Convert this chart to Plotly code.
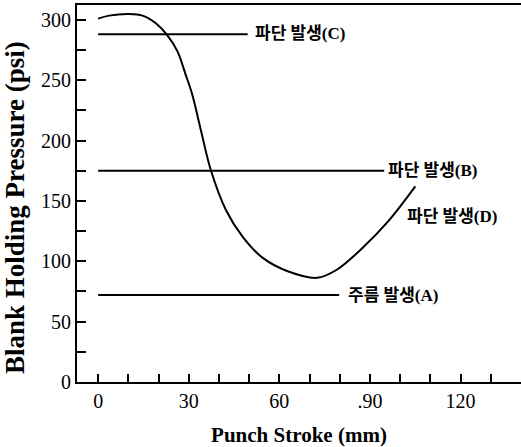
import plotly.graph_objects as go

# Curve: blank holding pressure vs punch stroke
stroke = [0, 3.6, 10.3, 14.7, 19.1, 23, 26.3, 29, 31.2, 34, 37.3, 42.3, 47.8, 54.4, 63, 72.5, 79, 87.5, 96, 105]
pressure = [301, 303.5, 304.9, 303.5, 297.2, 287, 273.7, 254.4, 237.8, 208.8, 175.6, 142.5, 120.4, 103, 91.5, 86.3, 93, 111, 133, 162]

# Limit lines: (label, level, end stroke)
limit_labels = ["파단 발생(C)", "파단 발생(B)", "주름 발생(A)"]
limit_levels = [288, 175, 72]
limit_ends = [49.5, 94.7, 79.8]
limit_label_x = [51.3, 95.2, 82.2]
limit_label_y = [288.5, 175.6, 72]

curve_label = "파단 발생(D)"
curve_label_pos = (101.7, 137)

x_tick_vals = [0, 30, 60, 90, 120]
x_tick_text = ["0", "30", "60", ".90", "120"]
y_tick_vals = [0, 50, 100, 150, 200, 250, 300]
y_tick_text = ["0", "50", "100", "150", "200", "250", "300"]

x_title = "Punch Stroke (mm)"
y_title = "Blank Holding Pressure (psi)"

serif = "Liberation Serif, Noto Sans CJK KR, serif"

fig = go.Figure()
fig.add_trace(go.Scatter(x=stroke, y=pressure, mode="lines",
                         line=dict(color="black", width=2, shape="spline", smoothing=1.0),
                         showlegend=False, hoverinfo="skip"))
for lvl, xe in zip(limit_levels, limit_ends):
    fig.add_trace(go.Scatter(x=[0, xe], y=[lvl, lvl], mode="lines",
                             line=dict(color="black", width=2),
                             showlegend=False, hoverinfo="skip"))

for lab, ly, lx in zip(limit_labels, limit_label_y, limit_label_x):
    fig.add_annotation(x=lx, y=ly, text="<b>" + lab + "</b>", showarrow=False,
                       xanchor="left", yanchor="middle",
                       font=dict(family=serif, size=17, color="black"))
fig.add_annotation(x=curve_label_pos[0], y=curve_label_pos[1], text="<b>" + curve_label + "</b>",
                   showarrow=False, xanchor="left", yanchor="middle",
                   font=dict(family=serif, size=17, color="black"))

# y-axis title as rotated annotation (paper coords)
fig.add_annotation(x=-0.1396, y=0.4615, xref="paper", yref="paper",
                   text="<b>" + y_title + "</b>", textangle=-90, showarrow=False,
                   xanchor="center", yanchor="middle",
                   font=dict(family=serif, size=27, color="black"))

fig.update_layout(
    width=521, height=447,
    margin=dict(l=77, r=0, t=5, b=65),
    paper_bgcolor="white", plot_bgcolor="white",
    font=dict(family=serif, color="black"),
    xaxis=dict(range=[-7, 140], showgrid=False, zeroline=False, automargin=False,
               showline=True, linecolor="black", linewidth=2, mirror=True,
               tickmode="array", tickvals=x_tick_vals, ticktext=x_tick_text,
               ticks="inside", ticklen=8, tickwidth=2, tickcolor="black",
               minor=dict(dtick=10, tick0=0, ticks="inside", ticklen=8, tickwidth=2, tickcolor="black"),
               tickfont=dict(family=serif, size=20, color="black"),
               title=dict(text="<b>" + x_title + "</b>", font=dict(family=serif, size=21, color="black"), standoff=19)),
    yaxis=dict(range=[0, 312.3], showgrid=False, zeroline=False, automargin=False,
               showline=True, linecolor="black", linewidth=2,
               tickmode="array", tickvals=y_tick_vals, ticktext=y_tick_text,
               ticks="inside", ticklen=9, tickwidth=2, tickcolor="black",
               minor=dict(dtick=25, tick0=0, ticks="inside", ticklen=9, tickwidth=2, tickcolor="black"),
               tickfont=dict(family=serif, size=20, color="black")),
)

fig.write_html("out.html", config={"displayModeBar": False},
               post_script="document.body.style.margin='0';document.body.style.overflow='hidden';")
